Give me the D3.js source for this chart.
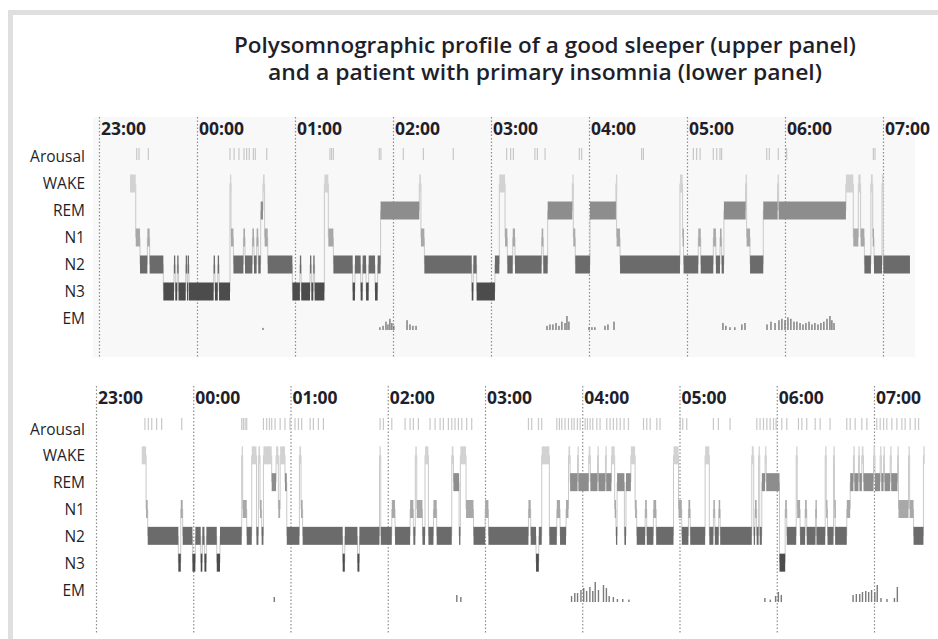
<!DOCTYPE html>
<meta charset="utf-8">
<head>
<script src="https://d3js.org/d3.v7.min.js"></script>
<style>
body { margin: 0; background: #fff; }
text { font-family: "Open Sans", sans-serif; fill: #1f1f2b; }
.title { font-size: 21px; font-weight: 600; text-anchor: middle; }
.hour { font-size: 17.5px; font-weight: 700; }
.row { font-size: 15.5px; text-anchor: end; }
.grid line { stroke: #8c8c8c; stroke-width: 1.2; stroke-dasharray: 1.5,2; }
.grid path { stroke-width: 0; }
</style>
</head>
<body>
<script>

// ---- data (times are minutes after 23:00) ----
var hourLabels = ["23:00", "00:00", "01:00", "02:00", "03:00", "04:00", "05:00", "06:00", "07:00"];
var hourMinutes = [0, 60, 120, 180, 240, 300, 360, 420, 480];
var rowLabels = ["Arousal", "WAKE", "REM", "N1", "N2", "N3", "EM"];

// good sleeper: [start, end, stage]
var upperHypno = [
  [19.0, 22.5, "WAKE"], [22.5, 25.1, "N1"], [25.1, 29.6, "N2"], [29.6, 31.0, "N1"],
  [31.0, 39.4, "N2"], [39.4, 45.9, "N3"], [45.9, 46.7, "N2"], [46.7, 47.9, "N3"],
  [47.9, 48.7, "N2"], [48.7, 53.1, "N3"], [53.1, 53.9, "N2"], [53.9, 54.3, "N3"],
  [54.3, 55.1, "N2"], [55.1, 70.2, "N3"], [70.2, 71.0, "N2"], [71.0, 72.7, "N3"],
  [72.7, 73.5, "N2"], [73.5, 80.2, "N3"], [80.2, 80.8, "WAKE"], [80.8, 82.3, "N1"],
  [82.3, 88.4, "N2"], [88.4, 89.4, "N1"], [89.4, 93.9, "N2"], [93.9, 94.9, "N1"],
  [94.9, 96.5, "N2"], [96.5, 97.5, "N1"], [97.5, 99.0, "N2"], [99.0, 100.4, "REM"],
  [100.4, 101.4, "WAKE"], [101.4, 103.3, "N1"], [103.3, 118.4, "N2"], [118.4, 123.0, "N3"],
  [123.0, 123.8, "N2"], [123.8, 129.2, "N3"], [129.2, 130.0, "N2"], [130.0, 131.2, "N3"],
  [131.2, 132.0, "N2"], [132.0, 138.0, "N3"], [138.0, 140.4, "WAKE"], [140.4, 143.5, "N1"],
  [143.5, 155.3, "N2"], [155.3, 156.7, "N3"], [156.7, 160.2, "N2"], [160.2, 161.4, "N3"],
  [161.4, 163.5, "N2"], [163.5, 165.1, "N3"], [165.1, 169.0, "N2"], [169.0, 170.6, "N3"],
  [170.6, 172.4, "N2"], [172.4, 196.1, "REM"], [196.1, 197.1, "WAKE"], [197.1, 199.2, "N1"],
  [199.2, 228.2, "N2"], [228.2, 229.2, "N3"], [229.2, 231.2, "N2"], [231.2, 242.4, "N3"],
  [242.4, 245.1, "N2"], [245.1, 248.6, "WAKE"], [248.6, 250.0, "N1"], [250.0, 253.3, "N2"],
  [253.3, 254.7, "N1"], [254.7, 271.0, "N2"], [271.0, 272.0, "N1"], [272.0, 274.7, "N2"],
  [274.7, 289.8, "REM"], [289.8, 290.4, "WAKE"], [290.4, 291.6, "N1"], [291.6, 300.6, "N2"],
  [300.6, 316.5, "REM"], [316.5, 316.9, "WAKE"], [316.9, 319.0, "N1"], [319.0, 355.7, "N2"],
  [355.7, 357.3, "WAKE"], [357.3, 357.9, "N1"], [357.9, 366.9, "N2"], [366.9, 368.4, "N1"],
  [368.4, 376.1, "N2"], [376.1, 377.7, "N1"], [377.7, 380.2, "N2"], [380.2, 381.2, "N1"],
  [381.2, 382.6, "N2"], [382.6, 395.9, "REM"], [395.9, 396.5, "WAKE"], [396.5, 398.6, "N1"],
  [398.6, 406.7, "N2"], [406.7, 415.5, "REM"], [415.5, 416.1, "WAKE"], [416.1, 457.3, "REM"],
  [457.3, 461.8, "WAKE"], [461.8, 464.9, "N1"], [464.9, 466.3, "WAKE"], [466.3, 468.6, "N1"],
  [468.6, 472.6, "N2"], [472.6, 473.7, "WAKE"], [473.7, 474.5, "N1"], [474.5, 479.4, "N2"],
  [479.4, 480.2, "WAKE"], [480.2, 496.5, "N2"]
];

var upperArousal = [23.1, 24.5, 30.2, 80.2, 82.7, 85.7, 88.8, 90.4, 92.0, 94.5, 95.7, 102.7,
  141.4, 142.4, 143.5, 171.6, 172.6, 186.3, 198.6, 216.9, 249.6, 252.0, 253.7, 266.9, 268.4,
  273.1, 294.1, 295.5, 332.2, 333.3, 363.9, 365.9, 368.0, 376.1, 378.2, 380.2, 381.2, 408.8,
  410.4, 415.9, 421.0, 474.1, 475.1];

// eye movements: [time, relative amplitude]
var upperEM = [
  [100.4, 0.15],
  [172.0, 0.2], [173.9, 0.3], [175.7, 0.6], [176.9, 0.4], [178.1, 0.8], [179.3, 0.5], [180.5, 0.3],
  [188.6, 0.7], [190.4, 0.4], [192.2, 0.3], [194.1, 0.3],
  [274.3, 0.3], [276.1, 0.4], [277.9, 0.4], [279.8, 0.5], [281.6, 0.3], [283.4, 0.6], [285.3, 0.5],
  [286.5, 1.0], [287.7, 0.6],
  [300.0, 0.2], [301.8, 0.2], [303.6, 0.2], [309.8, 0.3], [311.6, 0.4], [315.3, 0.6],
  [382.0, 0.5], [383.8, 0.3], [386.3, 0.2], [389.3, 0.2], [393.6, 0.4], [395.5, 0.5],
  [409.0, 0.4], [411.4, 0.6], [413.9, 0.5], [416.3, 0.7], [418.1, 0.8], [420.0, 0.7], [421.8, 0.9],
  [423.6, 0.8], [425.5, 0.6], [427.3, 0.6], [429.2, 0.5], [431.0, 0.4], [432.8, 0.5], [434.7, 0.6],
  [436.5, 0.4], [438.3, 0.5], [440.2, 0.4], [442.0, 0.5], [443.8, 0.6], [445.7, 0.8], [447.5, 1.0],
  [448.7, 0.7], [450.0, 0.5]
];

// patient with primary insomnia
var lowerHypno = [
  [28.2, 30.9, "WAKE"], [30.9, 31.9, "N1"], [31.9, 50.8, "N2"], [50.8, 52.3, "N3"],
  [52.3, 53.5, "N1"], [53.5, 59.5, "N2"], [59.5, 61.3, "N3"], [61.3, 64.6, "N2"],
  [64.6, 65.6, "N3"], [65.6, 66.9, "N2"], [66.9, 68.1, "N3"], [68.1, 74.5, "N2"],
  [74.5, 76.5, "N3"], [76.5, 89.9, "N2"], [89.9, 90.5, "WAKE"], [90.5, 93.0, "N1"],
  [93.0, 96.1, "N2"], [96.1, 99.0, "WAKE"], [99.0, 100.2, "N2"], [100.2, 101.2, "WAKE"],
  [101.2, 102.2, "N1"], [102.2, 103.3, "N2"], [103.3, 108.4, "WAKE"], [108.4, 111.1, "REM"],
  [111.1, 112.5, "WAKE"], [112.5, 113.6, "N1"], [113.6, 116.6, "WAKE"], [116.6, 117.7, "REM"],
  [117.7, 125.5, "N2"], [125.5, 126.5, "WAKE"], [126.5, 127.5, "N1"], [127.5, 152.2, "N2"],
  [152.2, 153.5, "N3"], [153.5, 161.3, "N2"], [161.3, 162.5, "N3"], [162.5, 174.9, "N2"],
  [174.9, 175.7, "WAKE"], [175.7, 182.5, "N2"], [182.5, 184.5, "N1"], [184.5, 193.8, "N2"],
  [193.8, 195.8, "N1"], [195.8, 197.0, "N2"], [197.0, 197.9, "WAKE"], [197.9, 201.4, "N1"],
  [201.4, 203.0, "N2"], [203.0, 205.1, "WAKE"], [205.1, 208.2, "N2"], [208.2, 210.2, "N1"],
  [210.2, 219.5, "N2"], [219.5, 220.5, "WAKE"], [220.5, 224.0, "REM"], [224.0, 224.8, "N2"],
  [224.8, 228.3, "WAKE"], [228.3, 232.9, "N1"], [232.9, 240.1, "N2"], [240.1, 242.1, "N1"],
  [242.1, 266.8, "N2"], [266.8, 268.2, "N1"], [268.2, 271.5, "N2"], [271.5, 273.2, "N3"],
  [273.2, 275.0, "N2"], [275.0, 279.7, "WAKE"], [279.7, 284.3, "N2"], [284.3, 286.3, "N1"],
  [286.3, 290.0, "N2"], [290.0, 291.5, "N1"], [291.5, 292.5, "WAKE"], [292.5, 297.1, "REM"],
  [297.1, 297.6, "WAKE"], [297.6, 304.0, "REM"], [304.0, 305.0, "WAKE"], [305.0, 309.4, "REM"],
  [309.4, 310.0, "WAKE"], [310.0, 314.3, "REM"], [314.3, 314.8, "WAKE"], [314.8, 318.0, "REM"],
  [318.0, 320.0, "WAKE"], [320.0, 320.8, "N1"], [320.8, 321.5, "N2"], [321.5, 326.0, "REM"],
  [326.0, 327.0, "N2"], [327.0, 330.0, "REM"], [330.0, 332.6, "WAKE"], [332.6, 333.6, "N1"],
  [333.6, 338.8, "N2"], [338.8, 339.8, "N1"], [339.8, 343.9, "N2"], [343.9, 345.6, "N1"],
  [345.6, 356.3, "N2"], [356.3, 359.4, "WAKE"], [359.4, 361.4, "N1"], [361.4, 365.5, "N2"],
  [365.5, 366.6, "N1"], [366.6, 375.8, "N2"], [375.8, 378.4, "WAKE"], [378.4, 380.9, "N2"],
  [380.9, 381.8, "N1"], [381.8, 384.2, "N2"], [384.2, 385.1, "N1"], [385.1, 404.6, "N2"],
  [404.6, 405.8, "WAKE"], [405.8, 406.6, "N2"], [406.6, 407.6, "N1"], [407.6, 408.8, "N2"],
  [408.8, 409.5, "WAKE"], [409.5, 410.8, "N2"], [410.8, 412.8, "REM"], [412.8, 413.5, "WAKE"],
  [413.5, 421.7, "REM"], [421.7, 425.2, "N3"], [425.2, 426.2, "N1"], [426.2, 432.0, "N2"],
  [432.0, 432.6, "WAKE"], [432.6, 434.4, "N1"], [434.4, 437.5, "N2"], [437.5, 438.5, "N1"],
  [438.5, 443.9, "N2"], [443.9, 444.5, "N1"], [444.5, 449.9, "N2"], [449.9, 450.5, "WAKE"],
  [450.5, 451.3, "N1"], [451.3, 455.0, "N2"], [455.0, 455.6, "WAKE"], [455.6, 456.0, "N1"],
  [456.0, 463.2, "N2"], [463.2, 465.3, "N1"], [465.3, 467.3, "REM"], [467.3, 467.9, "WAKE"],
  [467.9, 470.4, "REM"], [470.4, 471.0, "WAKE"], [471.0, 472.5, "REM"], [472.5, 473.5, "WAKE"],
  [473.5, 479.7, "REM"], [479.7, 480.6, "WAKE"], [480.6, 483.8, "REM"], [483.8, 484.5, "WAKE"],
  [484.5, 485.9, "REM"], [485.9, 486.5, "WAKE"], [486.5, 490.0, "REM"], [490.0, 490.6, "WAKE"],
  [490.6, 494.5, "REM"], [494.5, 495.1, "WAKE"], [495.1, 501.3, "N1"], [501.3, 502.0, "WAKE"],
  [502.0, 504.4, "N1"], [504.4, 510.5, "N2"], [510.5, 511.0, "WAKE"]
];

var lowerArousal = [30.2, 32.3, 34.4, 37.4, 40.5, 52.9, 89.9, 90.9, 92.0, 93.0, 103.3, 105.3,
  107.0, 108.4, 110.5, 113.6, 116.6, 119.7, 122.8, 124.9, 126.9, 132.1, 134.1, 137.2, 140.3,
  175.3, 177.3, 182.5, 190.7, 193.8, 195.8, 198.9, 206.1, 209.2, 212.3, 214.3, 217.4, 219.5,
  221.5, 223.6, 225.7, 228.7, 231.8, 266.8, 268.8, 273.0, 275.0, 284.3, 285.9, 287.4, 289.4,
  291.5, 293.5, 295.0, 297.0, 298.7, 301.8, 303.2, 304.8, 306.5, 309.0, 311.0, 315.1, 317.2,
  319.2, 321.3, 323.4, 325.8, 328.5, 337.8, 339.8, 341.9, 346.0, 348.0, 360.4, 362.0, 364.5,
  380.9, 384.0, 391.2, 407.7, 409.7, 411.8, 413.9, 415.9, 418.0, 419.6, 423.1, 426.2, 433.4,
  435.5, 438.5, 443.7, 446.8, 452.9, 463.2, 465.3, 468.4, 472.5, 475.6, 481.7, 483.8, 485.9,
  487.9, 491.0, 494.1, 497.2, 499.2, 502.3, 505.4, 507.5];

var lowerEM = [
  [110.0, 0.25],
  [222.6, 0.35], [225.1, 0.25],
  [293.4, 0.3], [295.4, 0.45], [297.1, 0.45], [299.2, 0.6], [300.9, 0.7], [302.7, 0.55],
  [304.7, 0.75], [306.5, 0.55], [308.0, 1.0], [310.0, 0.6], [313.1, 0.85], [314.9, 0.7],
  [316.6, 0.3], [319.2, 0.25], [321.7, 0.15], [325.0, 0.15], [328.8, 0.12],
  [412.7, 0.2], [416.0, 0.12], [419.3, 0.3], [421.0, 0.5], [422.8, 0.35],
  [467.1, 0.35], [469.1, 0.4], [471.2, 0.4], [472.9, 0.5], [474.9, 0.55], [476.7, 0.5],
  [478.5, 0.6], [480.5, 0.5], [482.0, 0.85], [484.3, 0.2], [488.0, 0.15], [492.6, 0.2],
  [494.4, 0.75]
];

// ---- drawing ----
var width = 938, height = 639;

var stageColor = {WAKE: "#d2d2d2", REM: "#8d8d8d", N1: "#a8a8a8", N2: "#6b6b6b", N3: "#4c4c4c"};

var svg = d3.select("body").append("svg")
    .attr("width", width)
    .attr("height", height);

// grey frame on top and left
svg.append("rect").attr("x", 8).attr("y", 10).attr("width", width - 8).attr("height", 5).attr("fill", "#dfdfdf");
svg.append("rect").attr("x", 8).attr("y", 10).attr("width", 5).attr("height", height - 10).attr("fill", "#dfdfdf");

// title, two lines
svg.append("text").attr("class", "title").attr("x", 545).attr("y", 53)
    .attr("textLength", 622).attr("lengthAdjust", "spacingAndGlyphs")
    .text("Polysomnographic profile of a good sleeper (upper panel)");
svg.append("text").attr("class", "title").attr("x", 545).attr("y", 80)
    .attr("textLength", 554).attr("lengthAdjust", "spacingAndGlyphs")
    .text("and a patient with primary insomnia (lower panel)");

function drawPanel(p, hypno, arousal, em) {
  var x = d3.scaleLinear().domain([0, 480]).range([p.x0, p.x1]);
  var y = d3.scalePoint().domain(rowLabels).range([p.rowTop, p.rowBottom]);
  var emH = d3.scaleLinear().domain([0, 1]).range([0, p.emMax]);

  var g = svg.append("g");

  if (p.bg) {
    g.append("rect")
        .attr("x", p.x0 - 6).attr("y", p.gridTop)
        .attr("width", 915 - p.x0 + 6).attr("height", p.gridBottom - p.gridTop)
        .attr("fill", p.bg);
  }

  // hour gridlines
  g.append("g")
      .attr("class", "grid")
      .attr("transform", "translate(0," + p.gridTop + ")")
      .call(d3.axisBottom(x)
        .tickValues(hourMinutes)
        .tickSize(p.gridBottom - p.gridTop)
        .tickFormat(""));

  // hour labels
  g.selectAll(".hour")
      .data(hourMinutes)
    .enter().append("text")
      .attr("class", "hour")
      .attr("x", function(d) { return x(d) + 2; })
      .attr("y", p.hourY)
      .text(function(d, i) { return hourLabels[i]; });

  // row labels
  g.selectAll(".row")
      .data(rowLabels)
    .enter().append("text")
      .attr("class", "row")
      .attr("x", 85)
      .attr("y", function(d) { return y(d); })
      .attr("dy", "0.36em")
      .text(function(d) { return d; });

  // arousal ticks
  g.selectAll(".arousal")
      .data(arousal)
    .enter().append("line")
      .attr("x1", function(d) { return x(d); })
      .attr("x2", function(d) { return x(d); })
      .attr("y1", p.arousalY - 6)
      .attr("y2", p.arousalY + 6)
      .attr("stroke", "#c8c8c8")
      .attr("stroke-width", 1.2);

  // transitions between stages
  g.selectAll(".trans")
      .data(hypno.slice(1))
    .enter().append("line")
      .attr("x1", function(d) { return x(d[0]); })
      .attr("x2", function(d) { return x(d[0]); })
      .attr("y1", function(d, i) { return y(hypno[i][2]) + p.barOff; })
      .attr("y2", function(d) { return y(d[2]) + p.barOff; })
      .attr("stroke", "#c9c9c9")
      .attr("stroke-width", 1);

  // stage bars
  g.selectAll(".stage")
      .data(hypno)
    .enter().append("rect")
      .attr("x", function(d) { return x(d[0]); })
      .attr("width", function(d) { return Math.max(1.3, x(d[1]) - x(d[0])); })
      .attr("y", function(d) { return y(d[2]) + p.barOff - 9; })
      .attr("height", 18)
      .attr("fill", function(d) { return stageColor[d[2]]; });

  // eye movements
  g.selectAll(".em")
      .data(em)
    .enter().append("rect")
      .attr("x", function(d) { return x(d[0]) - 0.7; })
      .attr("width", 1.4)
      .attr("y", function(d) { return p.emBase - emH(d[1]); })
      .attr("height", function(d) { return emH(d[1]); })
      .attr("fill", "#7a7a7a");
}

drawPanel({x0: 99, x1: 883, rowTop: 156, rowBottom: 318, barOff: 0.5,
           gridTop: 117, gridBottom: 357, hourY: 135, arousalY: 154,
           emBase: 330, emMax: 14, bg: "#f8f8f8"},
          upperHypno, upperArousal, upperEM);

drawPanel({x0: 96, x1: 874, rowTop: 429, rowBottom: 590, barOff: -0.5,
           gridTop: 386, gridBottom: 633, hourY: 404, arousalY: 424,
           emBase: 602, emMax: 20, bg: null},
          lowerHypno, lowerArousal, lowerEM);

</script>
</body>
